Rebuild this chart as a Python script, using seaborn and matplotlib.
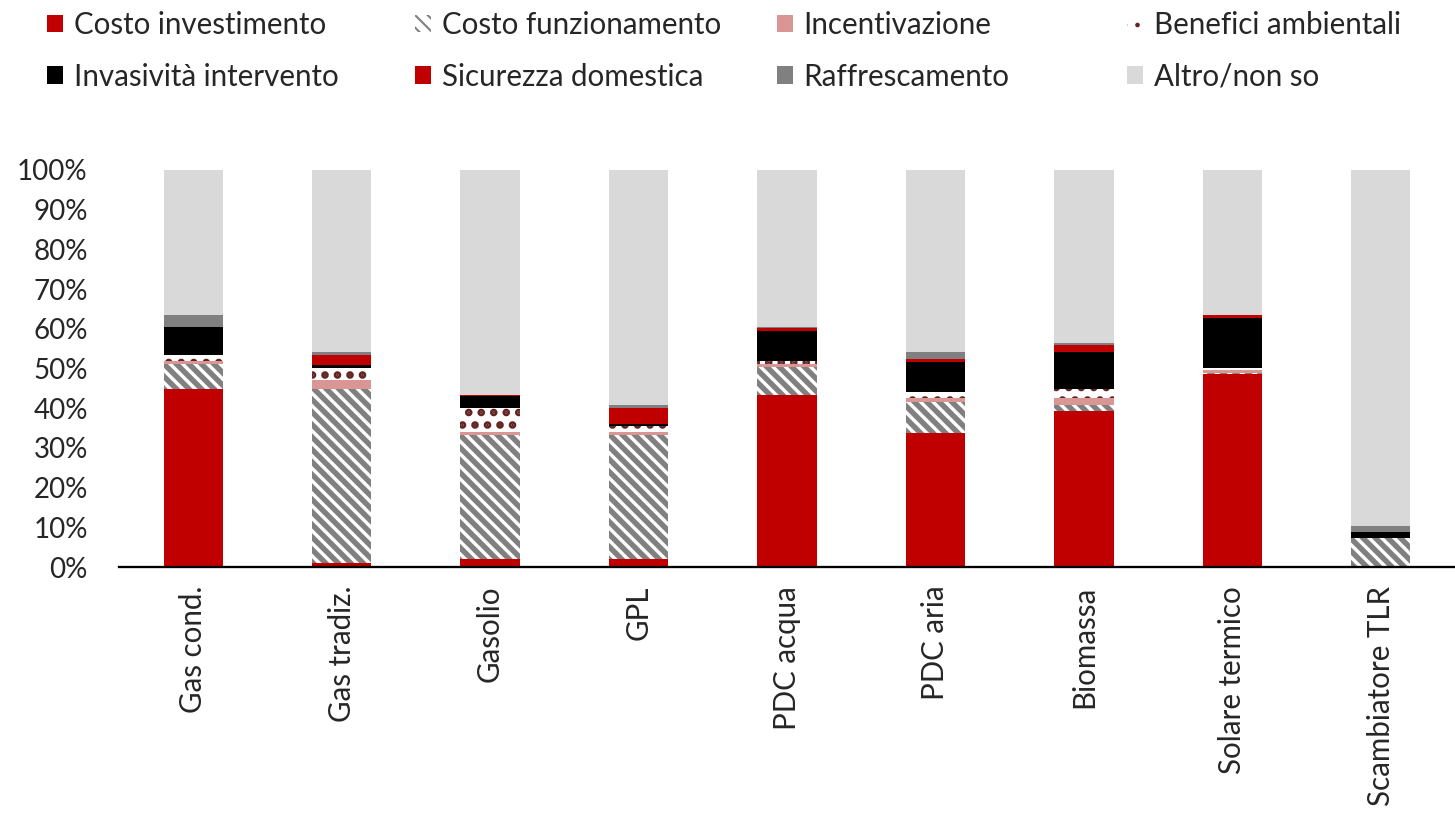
import numpy as np
import pandas as pd
import matplotlib.pyplot as plt
from matplotlib.patches import Patch
from matplotlib.ticker import FixedLocator, PercentFormatter
import seaborn as sns

sns.set_style("white")
plt.rcParams['font.family'] = ['Lato', 'DejaVu Sans']

# Data (percent of respondents)
impianti = ['Gas cond.', 'Gas tradiz.', 'Gasolio', 'GPL', 'PDC acqua',
            'PDC aria', 'Biomassa', 'Solare termico', 'Scambiatore TLR']
costo_investimento = [44.8, 1.1, 1.9, 1.9, 43.3, 33.8, 39.3, 48.6, 0.3]
costo_funzionamento = [6.3, 43.7, 31.3, 31.3, 7.0, 7.8, 1.5, 0.2, 7.0]
incentivazione = [0.7, 2.3, 0.8, 0.8, 0.75, 0.85, 1.7, 0.7, 0.0]
benefici_ambientali = [1.7, 3.1, 6.0, 1.4, 0.8, 1.6, 2.3, 0.75, 0.0]
invasivita = [6.9, 0.7, 3.0, 0.7, 7.6, 7.6, 9.3, 12.4, 1.4]
sicurezza = [0.0, 2.5, 0.2, 3.9, 0.85, 0.85, 1.7, 0.85, 0.0]
raffrescamento = [3.2, 0.7, 0.1, 0.7, 0.1, 1.6, 0.7, 0.0, 1.7]
altro = [36.4, 45.9, 56.7, 59.3, 39.6, 45.9, 43.5, 36.5, 89.6]

series = [
    ('Costo investimento', costo_investimento, dict(color='#C00000')),
    ('Costo funzionamento', costo_funzionamento,
     dict(color='white', edge='#808080', hatch='\\\\\\\\', hlw=2.6)),
    ('Incentivazione', incentivazione, dict(color='#DA9694')),
    ('Benefici ambientali', benefici_ambientali,
     dict(color='white', edge='#632523', hatch='..', hlw=2.4)),
    ('Invasività intervento', invasivita, dict(color='black')),
    ('Sicurezza domestica', sicurezza, dict(color='#C00000')),
    ('Raffrescamento', raffrescamento, dict(color='#808080')),
    ('Altro/non so', altro, dict(color='#D9D9D9')),
]

df = pd.DataFrame({name: vals for name, vals, _ in series}, index=impianti)
cum = df.cumsum(axis=1)

DPI = 150
fig = plt.figure(figsize=(1455 / DPI, 815 / DPI), dpi=DPI)
ax = fig.add_axes([119 / 1455, 1 - 567 / 815, 1 - 119 / 1455, (567 - 170) / 815])

# stacked bars: draw cumulative totals from top layer down
for name, _, st in reversed(series):
    plt.rcParams['hatch.linewidth'] = st.get('hlw', 1.0)
    sns.barplot(x=impianti, y=cum[name].values, ax=ax, color=st['color'],
                saturation=1, width=0.4, hatch=st.get('hatch'),
                edgecolor=st.get('edge', st['color']), linewidth=0)

ax.set_ylim(0, 100)
ax.set_xlim(-0.5, len(impianti) - 0.5)
ax.yaxis.set_major_locator(FixedLocator(np.arange(0, 101, 10)))
ax.yaxis.set_major_formatter(PercentFormatter(decimals=0))
ax.tick_params(axis='y', length=0, pad=15, labelsize=13.3)
ax.tick_params(axis='x', which='major', length=0, pad=9, labelsize=14.2,
               labelrotation=90)
ax.xaxis.set_minor_locator(FixedLocator(np.arange(-0.5, len(impianti), 1)))
ax.tick_params(axis='x', which='minor', length=4, width=1, direction='out',
               color='black')
for s in ['left', 'top', 'right']:
    ax.spines[s].set_visible(False)
ax.spines['bottom'].set_color('black')
ax.spines['bottom'].set_linewidth(1.1)
ax.set_ylabel('')
ax.set_xlabel('')

# legend: four columns of two entries
handles = []
for name, _, st in series:
    plt.rcParams['hatch.linewidth'] = st.get('hlw', 1.0)
    handles.append(Patch(facecolor=st['color'], edgecolor=st.get('edge', st['color']),
                         hatch=st.get('hatch'), linewidth=0, label=name))
col_x = [47, 415, 777, 1127]
for i, x in enumerate(col_x):
    leg = fig.legend(handles=[handles[i], handles[i + 4]], loc='upper left',
                     bbox_to_anchor=(x / 1455, 1 - 11 / 815), frameon=False,
                     fontsize=14.2, borderpad=0, borderaxespad=0,
                     handlelength=0.55, handleheight=0.55, handletextpad=0.35,
                     labelspacing=0.8)

fig.savefig('out.png', dpi=DPI)
